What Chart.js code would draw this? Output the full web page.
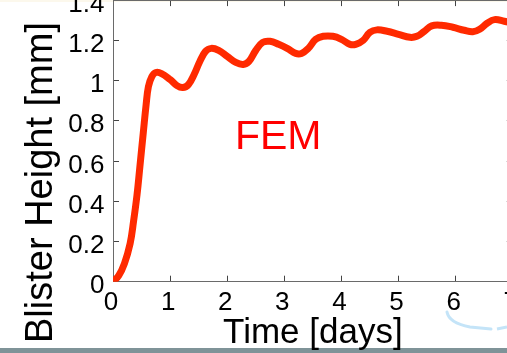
<!DOCTYPE html>
<html>
<head>
<meta charset="utf-8">
<script src="https://cdn.jsdelivr.net/npm/chart.js@4.4.1/dist/chart.umd.min.js"></script>
<style>
  html, body { margin: 0; padding: 0; background: #fff; }
  body { width: 507px; height: 353px; overflow: hidden; position: relative; }
  #topband { position: absolute; left: 0; top: 0; width: 507px; height: 2px; background: #fcf8ec; z-index: 0; }
  #footer { position: absolute; left: 0; top: 348px; width: 507px; height: 5px; background: #7f9398; z-index: 0; }
  #swoosh { position: absolute; left: 0; top: 0; z-index: 0; }
  #plot { position: absolute; left: 0; top: -30px; z-index: 1; }
</style>
</head>
<body>
<div id="topband"></div>
<div id="footer"></div>
<svg id="swoosh" width="507" height="353">
  <path d="M447 312 Q449 323 470 327 L491 329" fill="none" stroke="#c4e4f8" stroke-width="3" stroke-linecap="round"/>
  <path d="M497 329 L507 327" fill="none" stroke="#c4e4f8" stroke-width="3"/>
</svg>
<canvas id="plot" width="560" height="425"></canvas>
<script>
// blister growth over time, FEM result
var days = [0, 0.1, 0.2, 0.3, 0.36, 0.42, 0.47, 0.53, 0.58, 0.62, 0.68, 0.75, 0.85,
  1.0, 1.12, 1.22, 1.32, 1.42, 1.52, 1.62, 1.72, 1.85, 2.0, 2.15, 2.28, 2.38, 2.5,
  2.62, 2.75, 2.9, 3.05, 3.2, 3.3, 3.42, 3.55, 3.68, 3.85, 4.0, 4.15, 4.25, 4.38,
  4.5, 4.62, 4.8, 5.0, 5.2, 5.32, 5.45, 5.58, 5.75, 5.95, 6.15, 6.3, 6.42, 6.55,
  6.68, 6.85, 7.0];
var heightMm = [0, 0.03, 0.09, 0.19, 0.30, 0.43, 0.57, 0.74, 0.88, 0.97, 1.02, 1.04, 1.035,
  1.005, 0.975, 0.965, 0.98, 1.03, 1.095, 1.145, 1.16, 1.15, 1.12, 1.09, 1.08, 1.095, 1.15,
  1.19, 1.195, 1.18, 1.16, 1.135, 1.135, 1.16, 1.205, 1.22, 1.22, 1.205, 1.18, 1.18, 1.2,
  1.24, 1.252, 1.245, 1.23, 1.215, 1.22, 1.245, 1.272, 1.275, 1.265, 1.25, 1.243, 1.255, 1.285,
  1.303, 1.295, 1.285];

var xRange = [0, 7];
var yRange = [0, 1.4];
var xStep = 1;
var yStep = 0.2;
var femAt = [2.135, 0.66];

var FONT = "'Liberation Sans', Arial, sans-serif";

var points = days.map(function (d, i) { return { x: d, y: heightMm[i] }; });

// fixed box sizes so the axes land where they should
function fixWidth(w) { return function (s) { s.width = w; }; }
function fixHeight(h) { return function (s) { s.height = h; }; }

// MATLAB style: box around the plot, short ticks pointing inward
function boxGrid() {
  return { display: true, drawOnChartArea: false, drawTicks: true, tickLength: -6, color: '#444', lineWidth: 1 };
}
var border = { display: true, color: '#6a6a6a', width: 1 };

// 1 instead of 1.0
function shortNum(v) { return String(Math.round(v * 10) / 10); }

var femLabel = {
  id: 'femLabel',
  afterDatasetsDraw: function (chart) {
    var ctx = chart.ctx;
    ctx.save();
    ctx.font = '41px ' + FONT;
    ctx.fillStyle = '#ff0000';
    ctx.textAlign = 'left';
    ctx.textBaseline = 'alphabetic';
    ctx.fillText('FEM', chart.scales.x.getPixelForValue(femAt[0]), chart.scales.y.getPixelForValue(femAt[1]));
    ctx.restore();
  }
};

new Chart(document.getElementById('plot'), {
  type: 'line',
  data: {
    datasets: [{
      label: 'FEM',
      data: points,
      borderColor: '#ff2a00',
      borderWidth: 7,
      borderCapStyle: 'round',
      borderJoinStyle: 'round',
      pointRadius: 0,
      tension: 0.4,
      fill: false
    }]
  },
  options: {
    responsive: false,
    devicePixelRatio: 1,
    animation: false,
    layout: { padding: 0 },
    plugins: {
      legend: { display: false },
      tooltip: { enabled: false },
      title: {
        display: true,
        position: 'left',
        text: 'Blister Height [mm]',
        color: '#000',
        font: { family: FONT, size: 38, weight: 'normal', lineHeight: 1 },
        padding: { top: 22.8, bottom: 0 }
      }
    },
    scales: {
      x: {
        type: 'linear',
        position: 'bottom',
        min: xRange[0], max: xRange[1],
        grid: boxGrid(),
        border: border,
        ticks: { stepSize: xStep, color: '#000', font: { family: FONT, size: 26 }, padding: 11.7, labelOffset: -2, maxRotation: 0 },
        title: {
          display: true, text: 'Time [days]', color: '#000',
          font: { family: FONT, size: 35, weight: 'normal', lineHeight: 1 },
          padding: { top: 0, bottom: 44.5 }
        },
        afterFit: fixHeight(113.3)
      },
      xTop: {
        type: 'linear',
        position: 'top',
        min: xRange[0], max: xRange[1],
        grid: boxGrid(),
        border: border,
        ticks: { stepSize: xStep, display: false },
        afterFit: fixHeight(29.7)
      },
      y: {
        type: 'linear',
        position: 'left',
        min: yRange[0], max: yRange[1],
        grid: boxGrid(),
        border: border,
        ticks: { stepSize: yStep, color: '#000', font: { family: FONT, size: 26 }, padding: 14.5, labelOffset: 4.5, callback: shortNum },
        afterFit: fixWidth(52.2)
      },
      yRight: {
        type: 'linear',
        position: 'right',
        min: yRange[0], max: yRange[1],
        grid: boxGrid(),
        border: border,
        ticks: { stepSize: yStep, display: false },
        afterFit: fixWidth(47.2)
      }
    }
  },
  plugins: [femLabel]
});
</script>
</body>
</html>
